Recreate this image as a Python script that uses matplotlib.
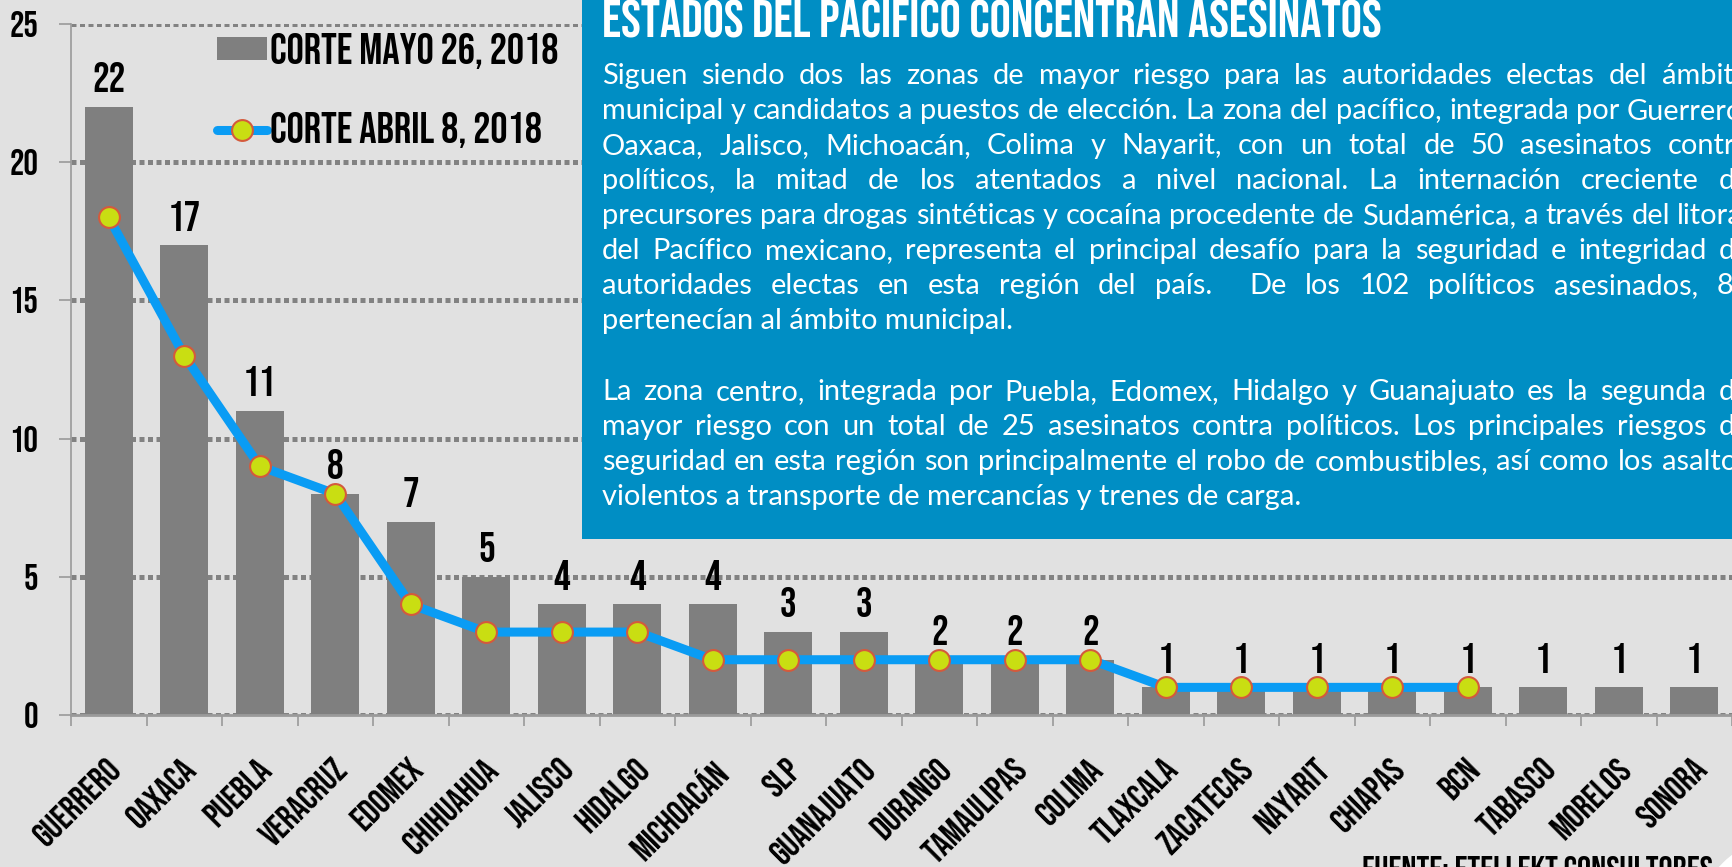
import matplotlib
matplotlib.use('Agg')
import matplotlib.pyplot as plt
import matplotlib.transforms as mtransforms
import numpy as np
from matplotlib.lines import Line2D
from matplotlib.patches import Ellipse, Patch, Rectangle

# --- datos ---
estados = ['GUERRERO', 'OAXACA', 'PUEBLA', 'VERACRUZ', 'EDOMEX', 'CHIHUAHUA', 'JALISCO',
           'HIDALGO', 'MICHOACÁN', 'SLP', 'GUANAJUATO', 'DURANGO', 'TAMAULIPAS', 'COLIMA',
           'TLAXCALA', 'ZACATECAS', 'NAYARIT', 'CHIAPAS', 'BCN', 'TABASCO', 'MORELOS', 'SONORA']
corte_mayo = [22, 17, 11, 8, 7, 5, 4, 4, 4, 3, 3, 2, 2, 2, 1, 1, 1, 1, 1, 1, 1, 1]
corte_abril = [18, 13, 9, 8, 4, 3, 3, 3, 2, 2, 2, 2, 2, 2, 1, 1, 1, 1, 1, np.nan, np.nan, np.nan]
y_ticks = [0, 5, 10, 15, 20, 25]

titulo = 'ESTADOS DEL PACIFICO CONCENTRAN ASESINATOS'
parrafo = [
    ('Siguen siendo dos las zonas de mayor riesgo para las autoridades electas del ámbito', False),
    ('municipal y candidatos a puestos de elección. La zona del pacífico, integrada por Guerrero,', False),
    ('Oaxaca, Jalisco, Michoacán, Colima y Nayarit, con un total de 50 asesinatos contra', False),
    ('políticos, la mitad de los atentados a nivel nacional. La internación creciente de', False),
    ('precursores para drogas sintéticas y cocaína procedente de Sudamérica, a través del litoral', False),
    ('del Pacífico mexicano, representa el principal desafío para la seguridad e integridad de', False),
    ('autoridades electas en esta región del país.  De los 102 políticos asesinados, 80', False),
    ('pertenecían al ámbito municipal.', True),
    ('', True),
    ('La zona centro, integrada por Puebla, Edomex, Hidalgo y Guanajuato es la segunda de', False),
    ('mayor riesgo con un total de 25 asesinatos contra políticos. Los principales riesgos de', False),
    ('seguridad en esta región son principalmente el robo de combustibles, así como los asaltos', False),
    ('violentos a transporte de mercancías y trenes de carga.', True),
]
fuente = 'FUENTE: ETELLEKT CONSULTORES'

# --- estilos ---
COND = ['Bebas Neue', 'Oswald', 'DejaVu Sans']
BODY = ['Lato', 'DejaVu Sans']
FONDO = '#E1E1E1'
GRIS = '#7F7F7F'
AZUL_CAJA = '#008EC4'
AZUL_LINEA = '#0A9CF4'

W, H = 1732, 867
fig = plt.figure(figsize=(W / 100, H / 100), dpi=100, facecolor=FONDO)


def fx(px):
    return px / W


def fy(py):
    return 1 - py / H


ax = fig.add_axes([fx(71), fy(715), 1 - fx(71), (715 - 24) / H])
ax.set_facecolor(FONDO)

x = np.arange(len(corte_mayo))
ax.bar(x, corte_mayo, width=0.64, color=GRIS, zorder=2)
ax.plot(x, corte_abril, color=AZUL_LINEA, lw=6.5, marker='o', ms=15,
        mfc='#C9DE12', mec='#D45A3C', mew=1.5, zorder=3, solid_capstyle='round')

for xi, v in zip(x, corte_mayo):
    ax.annotate(str(v), (xi, v), xytext=(0, 10.5), textcoords='offset points',
                ha='center', va='baseline', fontsize=30, family=COND, color='black', zorder=4)

ax.set_xlim(-0.5, len(corte_mayo) - 0.5)
ax.set_ylim(0, 25)
ax.set_axisbelow(True)
ax.yaxis.grid(True, linestyle=(0, (1.0, 0.7)), linewidth=3.6, color='#828282')
ax.xaxis.grid(False)

ax.set_yticks(y_ticks)
ax.set_yticklabels([str(t) for t in y_ticks], family=COND, fontsize=26)
ax.tick_params(axis='y', length=8.6, width=1.2, color='#9A9A9A', pad=15)

ax.set_xticks(x)
ax.set_xticklabels(estados, family=COND, fontsize=25, rotation=45,
                   ha='right', va='top', rotation_mode='anchor')
ax.tick_params(axis='x', which='major', length=0, pad=28)
ax.set_xticks(np.arange(-0.5, len(corte_mayo), 1), minor=True)
ax.tick_params(axis='x', which='minor', length=8, width=1.2, color='#9A9A9A')
offset = mtransforms.ScaledTranslation(-3 / 100, 0, fig.dpi_scale_trans)
for lab in ax.get_xticklabels():
    lab.set_transform(lab.get_transform() + offset)

for s in ['top', 'right']:
    ax.spines[s].set_visible(False)
ax.spines['left'].set_color('#9A9A9A')
ax.spines['left'].set_linewidth(1.2)
ax.spines['bottom'].set_color('#9A9A9A')
ax.spines['bottom'].set_linewidth(2)

handles = [
    Patch(facecolor=GRIS, edgecolor='none'),
    Line2D([0], [0], color=AZUL_LINEA, lw=6.5, marker='o', ms=15,
           mfc='#C9DE12', mec='#D45A3C', mew=1.5, solid_capstyle='round'),
]
ax.legend(handles, ['CORTE MAYO 26, 2018', 'CORTE ABRIL 8, 2018'],
          loc='upper left', bbox_to_anchor=(fx(217), fy(33)), bbox_transform=fig.transFigure,
          frameon=False, prop={'family': COND, 'size': 31}, handlelength=1.15,
          handleheight=0.45, handletextpad=0.08, labelspacing=1.0,
          borderpad=0, borderaxespad=0)

# --- caja azul con texto ---
fig.add_artist(Rectangle((fx(582), fy(539)), 1 - fx(582), 539 / H, transform=fig.transFigure,
                         facecolor=AZUL_CAJA, edgecolor='none', zorder=5))

fig.canvas.draw()
renderer = fig.canvas.get_renderer()

# titulo ajustado al ancho medido
t = fig.text(fx(602), fy(37), titulo, family=COND, fontsize=40, color='white',
             va='baseline', ha='left', zorder=6)
w = t.get_window_extent(renderer).width
t.set_fontsize(40 * 779 / w)

# parrafo justificado
x0, x1 = 602, 1750
fs = 20
medidas = []
for linea, _ in parrafo:
    if linea:
        tt = fig.text(0, 0, linea, family=BODY, fontsize=fs)
        medidas.append(tt.get_window_extent(renderer).width)
        tt.remove()
fs = fs * (x1 - x0) / max(medidas)

for k, (linea, ultima) in enumerate(parrafo):
    if not linea:
        continue
    base = 84 + 35.07 * k
    if ultima:
        fig.text(fx(x0), fy(base), linea, family=BODY, fontsize=fs, color='white',
                 va='baseline', ha='left', zorder=6)
        continue
    # un doble espacio deja una palabra vacia que suma otro hueco
    palabras = linea.split(' ')
    arts = [fig.text(0, fy(base), p, family=BODY, fontsize=fs, color='white',
                     va='baseline', ha='left', zorder=6) for p in palabras]
    anchos = [a.get_window_extent(renderer).width if p else 0.0 for a, p in zip(arts, palabras)]
    hueco = (x1 - x0 - sum(anchos)) / max(len(palabras) - 1, 1)
    pos = x0
    for a, wd in zip(arts, anchos):
        a.set_x(fx(pos))
        pos += wd + hueco

# fuente y detalle de esquina
fig.text(fx(1362), fy(856), fuente, family=COND, fontsize=25.5, color='black',
         va='top', ha='left', zorder=6)
fig.add_artist(Ellipse((fx(1790), fy(930)), 190 / W, 190 / H, transform=fig.transFigure,
                       facecolor='white', edgecolor='none', zorder=6))

fig.savefig('out.png', dpi=100, facecolor=FONDO)
